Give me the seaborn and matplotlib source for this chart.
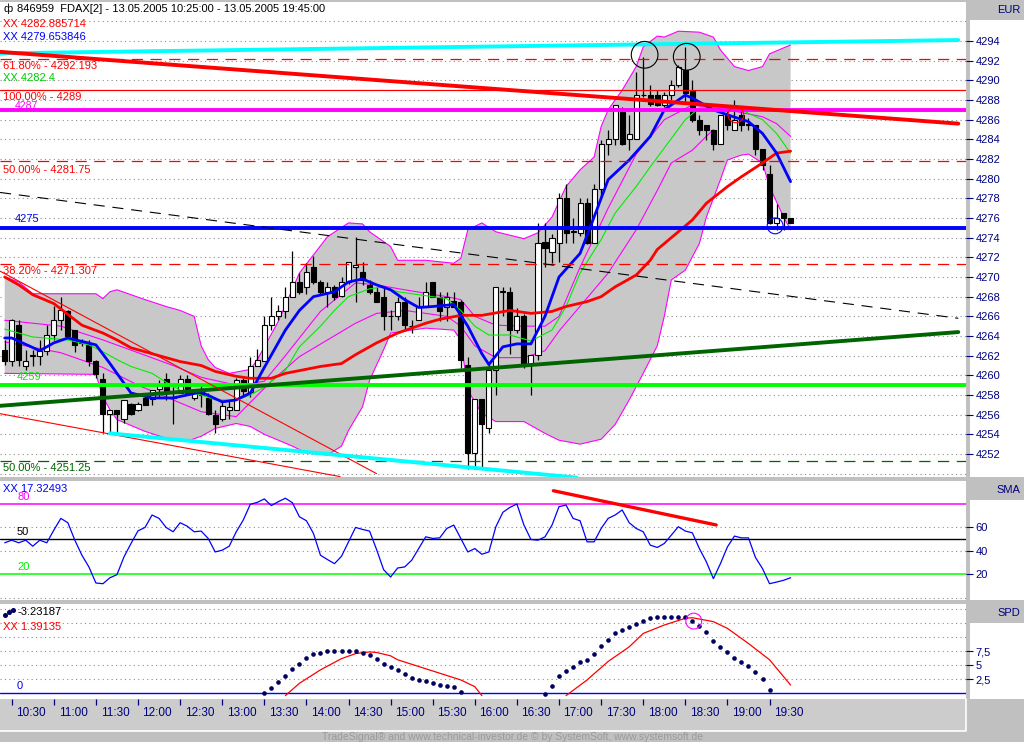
import numpy as np
import pandas as pd
import seaborn as sns
import matplotlib.pyplot as plt
from matplotlib.patches import Rectangle
from matplotlib.lines import Line2D

# FDAX 5 minute candles, bar 0 = 10:25, last bar = 19:45
opens = [4262.6, 4261.5, 4265.1, 4261.0, 4262.0, 4262.0, 4262.5, 4264.1, 4265.6, 4266.5,
         4264.6, 4263.3, 4263.1, 4261.5, 4259.6, 4256.1, 4256.5, 4255.6, 4257.1, 4256.5,
         4257.7, 4257.6, 4258.6, 4259.6, 4257.7, 4258.2, 4259.6, 4257.7, 4258.3, 4257.7,
         4256.0, 4255.6, 4256.5, 4256.5, 4259.5, 4258.3, 4261.0, 4261.5, 4265.1, 4266.0,
         4266.5, 4268.0, 4269.5, 4269.0, 4271.0, 4269.5, 4268.5, 4269.0, 4268.1, 4269.5,
         4271.0, 4270.5, 4269.2, 4268.5, 4268.0, 4266.0, 4266.0, 4267.5, 4265.0, 4265.6,
         4267.0, 4269.5, 4268.0, 4267.0, 4267.6, 4267.5, 4261.1, 4252.1, 4257.6, 4254.6,
         4260.5, 4268.5, 4268.5, 4264.6, 4266.0, 4261.2, 4262.1, 4273.6, 4272.5, 4273.5,
         4278.0, 4274.6, 4274.5, 4277.5, 4273.5, 4279.0, 4283.5, 4284.0, 4286.8, 4284.0,
         4284.0, 4288.5, 4288.5, 4288.5, 4287.5, 4288.5, 4289.5, 4291.1, 4288.9, 4286.0,
         4285.5, 4285.0, 4283.5, 4286.5, 4285.0, 4286.5, 4285.6, 4285.5, 4283.0, 4280.5,
         4275.5, 4276.5, 4276.0]
highs = [4263.6, 4265.7, 4265.6, 4262.6, 4262.6, 4263.6, 4265.1, 4267.1, 4268.0, 4266.6,
         4264.6, 4263.7, 4263.6, 4261.6, 4260.2, 4256.5, 4256.5, 4257.5, 4257.2, 4257.3,
         4258.2, 4258.5, 4259.5, 4260.2, 4258.8, 4260.0, 4260.0, 4258.5, 4259.2, 4258.2,
         4256.5, 4257.5, 4257.5, 4259.7, 4259.7, 4261.9, 4262.7, 4266.0, 4268.0, 4267.2,
         4269.0, 4272.6, 4270.4, 4271.4, 4272.1, 4269.7, 4269.5, 4269.2, 4270.0, 4271.5,
         4274.1, 4271.5, 4269.7, 4269.0, 4269.0, 4266.6, 4268.0, 4268.0, 4265.6, 4268.0,
         4269.5, 4269.5, 4268.5, 4268.5, 4268.5, 4267.7, 4261.9, 4257.6, 4257.6, 4261.2,
         4269.0, 4269.0, 4269.0, 4266.8, 4266.2, 4262.1, 4275.5, 4275.5, 4274.4, 4278.5,
         4279.5, 4276.0, 4278.0, 4278.0, 4279.5, 4283.9, 4285.0, 4287.5, 4287.3, 4286.5,
         4290.9, 4292.4, 4289.5, 4289.0, 4288.8, 4290.0, 4291.6, 4293.4, 4290.0, 4286.5,
         4285.5, 4285.0, 4286.5, 4287.0, 4288.0, 4287.0, 4286.2, 4285.5, 4283.0, 4281.4,
         4277.4, 4276.5, 4276.0]
lows = [4261.1, 4261.0, 4261.0, 4260.5, 4261.0, 4261.1, 4262.1, 4263.6, 4264.6, 4264.0,
        4262.4, 4263.0, 4261.0, 4259.7, 4254.1, 4254.1, 4254.1, 4255.2, 4256.0, 4256.4,
        4257.0, 4257.0, 4257.8, 4257.5, 4255.1, 4258.2, 4258.0, 4257.5, 4256.8, 4256.0,
        4254.1, 4255.4, 4255.6, 4256.5, 4257.8, 4257.8, 4260.9, 4261.5, 4264.6, 4265.6,
        4265.8, 4268.0, 4268.3, 4268.3, 4269.3, 4268.2, 4267.0, 4267.7, 4268.0, 4269.3,
        4267.5, 4269.2, 4268.3, 4267.5, 4264.6, 4264.6, 4265.6, 4264.6, 4264.3, 4265.6,
        4266.9, 4268.0, 4265.5, 4265.5, 4267.0, 4260.7, 4250.5, 4250.5, 4250.5, 4254.1,
        4258.0, 4266.0, 4262.2, 4264.3, 4260.7, 4258.0, 4261.6, 4271.0, 4271.4, 4271.5,
        4273.5, 4273.5, 4274.2, 4273.4, 4273.5, 4278.0, 4282.4, 4283.4, 4283.4, 4282.9,
        4284.0, 4288.3, 4287.4, 4287.4, 4287.3, 4288.0, 4289.3, 4287.7, 4285.8, 4284.4,
        4283.9, 4282.9, 4283.5, 4285.0, 4285.0, 4284.9, 4285.0, 4282.4, 4280.9, 4275.4,
        4274.8, 4274.8, 4275.5]
closes = [4261.5, 4265.6, 4261.6, 4261.5, 4262.0, 4262.5, 4264.1, 4265.6, 4266.6, 4264.0,
          4263.1, 4263.3, 4261.5, 4260.1, 4256.1, 4256.5, 4256.1, 4257.5, 4256.1, 4257.1,
          4257.0, 4258.5, 4259.0, 4258.2, 4257.7, 4259.6, 4258.2, 4258.3, 4258.0, 4256.1,
          4255.1, 4256.9, 4256.8, 4259.5, 4258.4, 4261.0, 4261.6, 4265.1, 4266.0, 4266.5,
          4268.0, 4269.5, 4268.5, 4270.5, 4269.5, 4268.5, 4269.0, 4268.0, 4269.5, 4271.5,
          4271.2, 4269.7, 4268.5, 4267.5, 4266.0, 4266.0, 4267.5, 4265.1, 4265.0, 4267.0,
          4268.5, 4268.0, 4266.5, 4268.0, 4267.0, 4261.6, 4252.1, 4257.6, 4255.1, 4260.5,
          4269.0, 4268.5, 4264.6, 4266.0, 4260.9, 4262.1, 4273.5, 4273.0, 4274.0, 4278.0,
          4274.5, 4274.6, 4277.5, 4273.5, 4279.0, 4283.5, 4284.0, 4287.5, 4283.5, 4284.5,
          4288.5, 4288.5, 4287.6, 4287.5, 4288.5, 4289.5, 4291.4, 4288.7, 4286.0, 4285.0,
          4285.0, 4283.5, 4286.5, 4285.5, 4286.0, 4285.5, 4285.5, 4283.0, 4281.4, 4275.5,
          4276.0, 4276.0, 4275.5]

# fast average (blue), values read at these bars
blue_idx = [0, 1, 5, 7, 9, 13, 15, 18, 21, 24, 28, 31, 33, 35, 37, 40, 42, 44, 47, 49,
            51, 53, 55, 57, 59, 61, 64, 66, 68, 69, 71, 73, 75, 77, 79, 82, 84, 86, 89, 92,
            94, 97, 98, 101, 103, 106, 108, 110, 112]
blue_val = [4263.8, 4263.8, 4262.5, 4263.3, 4263.8, 4263.1, 4261.2, 4258.2, 4257.7, 4257.7,
            4258.3, 4257.3, 4257.5, 4258.2, 4260.8, 4264.6, 4266.6, 4268.0, 4268.5, 4269.5,
            4269.8, 4269.2, 4268.7, 4267.7, 4266.9, 4267.0, 4267.2, 4265.0, 4262.2, 4261.1,
            4262.9, 4263.2, 4263.2, 4266.0, 4270.0, 4272.4, 4276.1, 4279.9, 4281.9, 4284.3,
            4287.0, 4288.5, 4288.2, 4287.0, 4286.5, 4285.8, 4284.6, 4282.6, 4279.7]

# slow average (red)
red_idx = [0, 2, 4, 7, 9, 11, 14, 16, 18, 21, 23, 25, 28, 30, 33, 35, 38, 40, 45, 48,
           50, 53, 56, 60, 62, 65, 68, 72, 75, 78, 80, 83, 85, 87, 90, 92, 93, 98, 100, 103,
           105, 108, 110, 112]
red_val = [4270.0, 4269.2, 4268.2, 4267.3, 4266.2, 4265.1, 4264.3, 4263.6, 4262.8, 4262.2,
           4261.8, 4261.4, 4261.0, 4260.4, 4259.9, 4259.7, 4259.7, 4260.2, 4260.9, 4261.2,
           4262.1, 4263.3, 4264.3, 4265.3, 4265.7, 4266.1, 4266.1, 4266.6, 4266.3, 4266.5,
           4267.0, 4267.5, 4268.0, 4269.0, 4270.2, 4271.7, 4272.8, 4275.8, 4277.5, 4279.2,
           4280.2, 4281.6, 4282.6, 4282.8]

# middle average (thin green)
green_idx = [0, 4, 9, 12, 14, 16, 18, 21, 23, 25, 28, 30, 33, 35, 37, 40, 42, 45, 47, 49,
             52, 54, 56, 59, 61, 63, 65, 67, 69, 72, 75, 78, 80, 82, 85, 87, 90, 92, 97, 99,
             104, 108, 110, 112]
green_val = [4264.7, 4263.9, 4263.6, 4263.1, 4262.4, 4261.6, 4260.9, 4260.2, 4259.3, 4258.5,
             4258.0, 4257.5, 4257.5, 4258.0, 4258.8, 4260.5, 4262.9, 4265.0, 4266.6, 4268.0,
             4268.8, 4269.0, 4268.5, 4268.2, 4268.0, 4267.8, 4266.6, 4265.0, 4264.1, 4264.1,
             4263.5, 4264.6, 4267.0, 4270.4, 4273.8, 4276.5, 4279.2, 4281.2, 4286.0, 4287.2,
             4287.3, 4286.0, 4284.6, 4282.6]

# inner thin magenta envelope
inner_up_idx = [0, 8, 14, 19, 24, 28, 33, 37, 40, 45, 50, 53, 57, 63, 65, 67, 70, 74, 77, 79,
                82, 86, 90, 94, 98, 103, 108, 110, 112]
inner_up_val = [4265.6, 4265.0, 4263.6, 4262.3, 4261.0, 4259.8, 4259.0, 4259.4, 4262.0, 4266.5,
                4269.4, 4269.2, 4268.7, 4268.0, 4267.7, 4266.0, 4265.1, 4265.0, 4265.0, 4266.0,
                4271.0, 4277.0, 4282.5, 4286.0, 4287.5, 4287.0, 4286.3, 4285.6, 4284.3]
inner_lo_idx = [0, 8, 14, 19, 24, 28, 33, 38, 42, 46, 50, 53, 57, 63, 65, 67, 70, 74, 77, 79,
                86, 90, 93, 95, 98, 101]
inner_lo_val = [4263.4, 4262.3, 4260.8, 4259.0, 4257.5, 4256.3, 4255.8, 4259.4, 4261.9, 4263.6,
                4265.3, 4266.3, 4266.6, 4266.0, 4265.0, 4263.0, 4261.8, 4261.8, 4262.5, 4264.5,
                4270.4, 4274.8, 4278.8, 4281.6, 4282.9, 4285.0]

# outer band (grey area)
band_up_idx = [0, 2, 4, 13, 14, 15, 16, 20, 23, 25, 27, 28, 29, 30, 32, 35, 36, 39, 42, 46,
               49, 51, 52, 55, 56, 60, 64, 65, 66, 68, 70, 74, 76, 78, 80, 82, 84, 85, 86, 88,
               90, 91, 93, 94, 96, 99, 101, 102, 104, 106, 108, 109, 111, 112]
band_up_val = [4270.0, 4269.5, 4268.3, 4268.3, 4267.8, 4268.5, 4268.7, 4267.7, 4267.0, 4266.6,
               4266.0, 4263.0, 4261.6, 4260.8, 4260.2, 4260.6, 4261.6, 4265.5, 4270.4, 4274.1,
               4275.5, 4275.4, 4274.6, 4273.1, 4271.7, 4271.7, 4271.4, 4271.9, 4274.8, 4275.5,
               4274.6, 4273.9, 4274.5, 4276.1, 4279.2, 4280.9, 4282.2, 4285.3, 4287.0, 4289.0,
               4291.4, 4293.4, 4294.5, 4294.4, 4295.0, 4294.9, 4294.4, 4293.1, 4291.4, 4291.0,
               4291.4, 4292.7, 4293.3, 4293.6]
band_lo_idx = [0, 13, 14, 15, 16, 20, 23, 26, 28, 30, 33, 35, 37, 41, 43, 46, 48, 49, 51, 52,
               54, 55, 60, 64, 65, 66, 68, 70, 74, 77, 79, 82, 85, 87, 89, 91, 93, 94, 95, 97,
               99, 100, 102, 103, 105, 106, 108, 109, 111, 112]
band_lo_val = [4260.2, 4260.1, 4257.8, 4256.5, 4255.5, 4254.3, 4253.6, 4253.3, 4253.8, 4254.6,
               4255.1, 4254.8, 4254.0, 4252.8, 4252.1, 4251.9, 4252.8, 4254.4, 4256.8, 4259.5,
               4262.6, 4264.3, 4264.8, 4264.6, 4263.6, 4258.5, 4256.1, 4255.3, 4255.3, 4254.1,
               4253.4, 4253.0, 4253.5, 4255.0, 4257.5, 4260.2, 4263.0, 4266.0, 4269.7, 4270.7,
               4273.4, 4276.1, 4279.9, 4281.9, 4282.4, 4282.5, 4281.6, 4279.2, 4276.1, 4274.8]

# horizontal levels
fibo_levels = {4292.193: '61.80% - 4292.193', 4289.0: '100.00% - 4289',
               4281.75: '50.00% - 4281.75', 4271.307: '38.20% - 4271.307'}
level_magenta = 4287
level_blue = 4275
level_lime = 4259
level_green = 4251.25

# trend lines (bar, price) start / end
cyan_top = ([-0.67, 135.9], [4292.75, 4294.1])
red_top = ([-0.67, 135.9], [4292.9, 4285.6])
green_trend = ([-0.67, 135.9], [4256.9, 4264.4])
black_trend = ([-0.67, 135.9], [4278.6, 4265.8])
red_thin1 = ([-0.67, 53.0], [4270.6, 4250.0])
red_thin2 = ([-0.67, 47.8], [4256.1, 4249.7])
cyan_low = ([15.0, 81.5], [4254.1, 4249.6])

# SMA oscillator, one value per bar
sma_vals = [46.9, 49.1, 46.9, 49.1, 44.0, 49.1, 46.9, 57.7, 67.7, 64.0,
            49.1, 36.3, 26.3, 12.6, 12.0, 17.1, 19.7, 34.9, 46.3, 57.1,
            60.0, 70.6, 67.7, 60.0, 56.3, 64.0, 61.1, 56.3, 56.9, 50.6,
            39.1, 40.6, 44.0, 56.3, 66.3, 79.7, 81.4, 84.3, 78.6, 82.0,
            84.9, 81.1, 69.1, 65.7, 54.9, 36.3, 32.6, 29.1, 35.4, 47.7,
            60.0, 58.3, 56.9, 41.1, 24.0, 17.7, 25.4,
            26.3, 32.0, 42.0, 52.0, 50.6, 51.1, 59.1, 62.0, 50.6, 39.1,
            42.0, 37.1, 39.1, 60.6, 72.9, 77.1, 80.0, 62.0, 49.7, 49.1,
            52.0, 62.0, 77.7, 79.1, 67.7, 65.7, 47.7, 47.7, 59.1, 67.7,
            70.6, 74.9, 64.0, 59.1, 56.3, 44.9, 42.9, 46.3, 53.4, 60.6,
            56.9, 55.4, 42.0, 30.6, 16.3, 29.1, 43.4, 52.6, 51.1, 51.1,
            34.3, 24.9, 12.0, 13.4, 14.9, 17.1]
sma_trend = ([78.2, 101.4], [91.3, 62.1])

# SPD panel
spd_dots1_start = 37
spd_dots1 = [0.1, 0.95, 2.07, 3.14, 4.33, 5.29, 6.31, 6.96, 7.26, 7.56, 7.56, 7.56, 7.56, 7.56,
             7.26, 6.79, 6.07, 5.29, 4.76, 4.17, 3.45, 2.68, 2.38, 2.26, 1.9, 1.49, 1.31, 1.07, 0.3]
spd_dots2_start = 77
spd_dots2 = [-0.1, 1.31, 3.1, 3.98, 4.76, 5.6, 5.95, 7.08, 8.45, 9.46, 10.8, 11.3, 11.8, 12.4,
             13.0, 13.4, 13.6, 13.6, 13.7, 13.7, 13.7, 12.9, 12.0, 10.9, 9.33, 8.33, 7.3, 6.35,
             5.6, 4.88, 3.8, 2.56, 0.6]
spd_red1_idx = [40, 42, 45, 48, 50, 52, 53, 55, 56, 59, 62, 65, 67, 68]
spd_red1 = [-0.4, 1.8, 4.2, 6.2, 7.1, 7.4, 7.3, 6.7, 6.0, 4.8, 3.6, 2.4, 1.2, -0.4]
spd_red2_idx = [80, 83, 86, 89, 91, 94, 97, 98, 101, 103, 106, 109, 112]
spd_red2 = [-0.4, 2.4, 5.7, 8.3, 10.7, 12.2, 13.4, 13.5, 12.8, 11.6, 8.9, 6.0, 1.5]

time_labels = ['10:30', '11:00', '11:30', '12:00', '12:30', '13:00', '13:30', '14:00', '14:30',
               '15:00', '15:30', '16:00', '16:30', '17:00', '17:30', '18:00', '18:30', '19:00', '19:30']

# ---------------------------------------------------------------
sns.set_style("white")
plt.rcParams['font.family'] = ['Liberation Sans', 'DejaVu Sans']
plt.rcParams['font.size'] = 8

W, H = 1024, 742
NAVY = '#000080'
XMIN, XMAX = -0.67, 137.0
DOT = (0, (1, 3))

fig = plt.figure(figsize=(W / 100, H / 100), dpi=100, facecolor='#c0c0c0')


def px_box(l, t, r, b):
    return [l / W, 1 - b / H, (r - l) / W, (b - t) / H]


def panel(l, t, r, b, color):
    fig.add_artist(Rectangle((l / W, 1 - b / H), (r - l) / W, (b - t) / H,
                             transform=fig.transFigure, facecolor=color,
                             edgecolor='none', zorder=-1))


def label(px, py, s, color, size=8, ha='left'):
    fig.text(px / W, 1 - py / H, s, color=color, fontsize=size, ha=ha, va='center')


# right scale column and x axis strip
panel(970, 20, 1024, 477, 'white')
panel(970, 500, 1024, 600, 'white')
panel(970, 623, 1024, 699, 'white')
panel(0, 699, 966, 731, '#cccccc')
fig.add_artist(Line2D([0, 966 / W, 966 / W], [1 - 731 / H, 1 - 731 / H, 1 - 699 / H],
                      transform=fig.transFigure, color='white', lw=1.2))

ax = fig.add_axes(px_box(0, 2, 966, 477))
ax_sma = fig.add_axes(px_box(0, 481, 966, 600))
ax_spd = fig.add_axes(px_box(0, 604, 966, 699))
for a in (ax, ax_sma, ax_spd):
    a.set_facecolor('white')
    for s in a.spines.values():
        s.set_visible(False)
    a.yaxis.tick_right()
    a.tick_params(axis='y', direction='out', length=5, width=0.8, color=NAVY,
                  labelcolor=NAVY, labelsize=8, pad=2)
    a.tick_params(axis='x', which='both', bottom=False, labelbottom=False)

# ---------------- main price panel ----------------
ax.hlines(np.arange(4250, 4297, 2), XMIN, XMAX, colors='#8c8c8c', linestyles=DOT, lw=0.8, zorder=0.5)

ax.fill(np.r_[band_up_idx, band_lo_idx[::-1]], np.r_[band_up_val, band_lo_val[::-1]],
        facecolor='#c8c8c8', edgecolor='none', zorder=1)
for bx, by in ((band_up_idx, band_up_val), (band_lo_idx, band_lo_val),
               (inner_up_idx, inner_up_val), (inner_lo_idx, inner_lo_val)):
    sns.lineplot(x=bx, y=by, ax=ax, color='#ff00ff', linewidth=0.8, zorder=1.5)

candles = pd.DataFrame({'open': opens, 'high': highs, 'low': lows, 'close': closes})
candles['bar'] = np.arange(len(candles))
candles['bottom'] = candles[['open', 'close']].min(axis=1)
candles['body'] = (candles['close'] - candles['open']).abs().clip(lower=0.06)
face = np.where(candles['close'] >= candles['open'], 'white', 'black')
ax.vlines(candles['bar'], candles['low'], candles['high'], color='black', lw=0.9, zorder=3)
ax.bar(candles['bar'], candles['body'], bottom=candles['bottom'], width=0.72,
       color=face, edgecolor='black', linewidth=0.8, zorder=3.2)

sns.lineplot(x=green_idx, y=green_val, ax=ax, color='#00ee00', linewidth=0.8, zorder=4)
sns.lineplot(x=red_idx, y=red_val, ax=ax, color='#ff0000', linewidth=2.0, zorder=4.2)
sns.lineplot(x=blue_idx, y=blue_val, ax=ax, color='#0000ff', linewidth=2.0, zorder=4.4)

for lvl in fibo_levels:
    if lvl == 4289.0:
        ax.axhline(lvl, color='#ff0000', lw=0.9, zorder=5)
    else:
        ax.axhline(lvl, color='#ff0000', lw=0.9, ls=(0, (9, 6)), zorder=5)
ax.axhline(level_magenta, color='#ff00ff', lw=2.8, zorder=5)
ax.axhline(level_blue, color='#0000ff', lw=2.8, zorder=5)
ax.axhline(level_lime, color='#00ff00', lw=2.8, zorder=5)
ax.axhline(level_green, color='#006400', lw=0.9, ls=(0, (9, 6)), zorder=5)

ax.plot(*cyan_top, color='#00ffff', lw=2.8, zorder=5.2)
ax.plot(*red_top, color='#ff0000', lw=2.8, zorder=5.2)
ax.plot(*green_trend, color='#006400', lw=2.8, zorder=5.2)
ax.plot(*black_trend, color='black', lw=0.8, ls=(0, (10, 7)), zorder=5.2)
ax.plot(*red_thin1, color='#ff0000', lw=0.8, zorder=5.2)
ax.plot(*red_thin2, color='#ff0000', lw=0.8, zorder=5.2)
ax.plot(*cyan_low, color='#00ffff', lw=2.8, zorder=5.2)

# marked highs / lows
ax.scatter([91.2, 97.2], [4292.6, 4292.4], s=370, facecolors='none', edgecolors='black', lw=0.8, zorder=6)
ax.scatter([104.2], [4286.5], s=130, facecolors='none', edgecolors='#ff0000', lw=0.8, zorder=6)
ax.scatter([109.8], [4275.2], s=130, facecolors='none', edgecolors='#0000ff', lw=0.8, zorder=6)

ax.set_ylim(4249.66, 4297.97)
ax.set_yticks(np.arange(4252, 4295, 2))
ax.set_yticklabels([str(v) for v in range(4252, 4295, 2)])

# ---------------- SMA panel ----------------
ax_sma.hlines([0, 40, 60], XMIN, XMAX, colors='#8c8c8c', linestyles=DOT, lw=0.8, zorder=0.5)
ax_sma.axhline(80, color='#ff00ff', lw=1.1, zorder=1)
ax_sma.axhline(50, color='black', lw=1.0, zorder=1)
ax_sma.axhline(20, color='#00ff00', lw=1.1, zorder=1)
sns.lineplot(x=np.arange(len(sma_vals)), y=sma_vals, ax=ax_sma, color='#0000ff', linewidth=0.9, zorder=2)
ax_sma.plot(*sma_trend, color='#ff0000', lw=2.4, zorder=3)
ax_sma.set_ylim(-1.9, 99.6)
ax_sma.set_yticks([20, 40, 60])
ax_sma.set_yticklabels(['20', '40', '60'])

# ---------------- SPD panel ----------------
ax_spd.hlines([2.5, 5, 7.5, 10, 12.5, 15], XMIN, XMAX, colors='#8c8c8c', linestyles=DOT, lw=0.8, zorder=0.5)
ax_spd.axhline(0, color='#0000ff', lw=1.0, zorder=1)
sns.lineplot(x=spd_red1_idx, y=spd_red1, ax=ax_spd, color='#ff0000', linewidth=0.9, zorder=2)
sns.lineplot(x=spd_red2_idx, y=spd_red2, ax=ax_spd, color='#ff0000', linewidth=0.9, zorder=2)
for start, vals in ((spd_dots1_start, spd_dots1), (spd_dots2_start, spd_dots2)):
    sns.scatterplot(x=np.arange(start, start + len(vals)), y=vals, ax=ax_spd,
                    color='#000060', s=11, linewidth=0, zorder=3)
ax_spd.scatter([98.2], [12.9], s=130, facecolors='none', edgecolors='#ff00ff', lw=0.8, zorder=4)
ax_spd.set_ylim(-1.0, 15.95)
ax_spd.set_yticks([2.5, 5, 7.5])
ax_spd.set_yticklabels(['2,5', '5', '7,5'])

# time axis
tick_bars = [(int(t[:2]) * 60 + int(t[3:]) - (10 * 60 + 25)) / 5 for t in time_labels]
ax_spd.set_xticks(tick_bars)
ax_spd.set_xticks([b + 2.75 for b in tick_bars], minor=True)
ax_spd.set_xticklabels(time_labels, minor=True)
ax_spd.tick_params(axis='x', which='major', bottom=True, direction='out', length=4,
                   width=0.9, color=NAVY, labelbottom=False)
ax_spd.tick_params(axis='x', which='minor', bottom=True, length=0, labelbottom=True,
                   labelcolor=NAVY, labelsize=8.5, pad=6)

for a in (ax, ax_sma, ax_spd):
    a.set_xlim(XMIN, XMAX)
    a.set_xlabel('')
    a.set_ylabel('')

# ---------------- texts ----------------
label(4, 9, 'ф', 'black', size=8)
label(17, 9, '846959  FDAX[2] - 13.05.2005 10:25:00 - 13.05.2005 19:45:00', 'black')
label(3, 24, 'XX 4282.885714', '#ff0000')
label(3, 37, 'XX 4279.653846', '#0000ff')
label(3, 66, '61.80% - 4292.193', '#ff0000')
label(3, 78, 'XX 4282.4', '#00cc00')
label(3, 97, '100.00% - 4289', '#ff0000')
label(15, 106, '4287', '#ff00ff', size=7.5)
label(3, 170, '50.00% - 4281.75', '#ff0000')
label(15, 219, '4275', '#0000ff')
label(3, 271, '38.20% - 4271.307', '#ff0000')
label(17, 377, '4259', '#00ee00')
label(3, 468, '50.00% - 4251.25', '#006400')

label(3, 489, 'XX 17.32493', '#0000ff')
label(17, 497, '80', '#ff00ff')
label(17, 532, '50', 'black')
label(17, 567, '20', '#00ee00')

fig.add_artist(Line2D([5 / W, 9 / W, 13 / W], [1 - 615 / H, 1 - 612 / H, 1 - 610 / H],
                      transform=fig.transFigure, ls='none', marker='o', ms=2.6, color='#000060'))
label(18, 612, '-3.23187', 'black')
label(3, 627, 'XX 1.39135', '#ff0000')
label(17, 686, '0', '#0000ff')

label(1020, 10, 'EUR', NAVY, ha='right')
label(1020, 490, 'SMA', NAVY, ha='right')
label(1020, 613, 'SPD', NAVY, ha='right')

label(513, 737, 'TradeSignal® and www.technical-investor.de © by SystemSoft, www.systemsoft.de',
      '#9a9a9a', size=7.5, ha='center')

fig.savefig('out.png', dpi=100, facecolor=fig.get_facecolor())
